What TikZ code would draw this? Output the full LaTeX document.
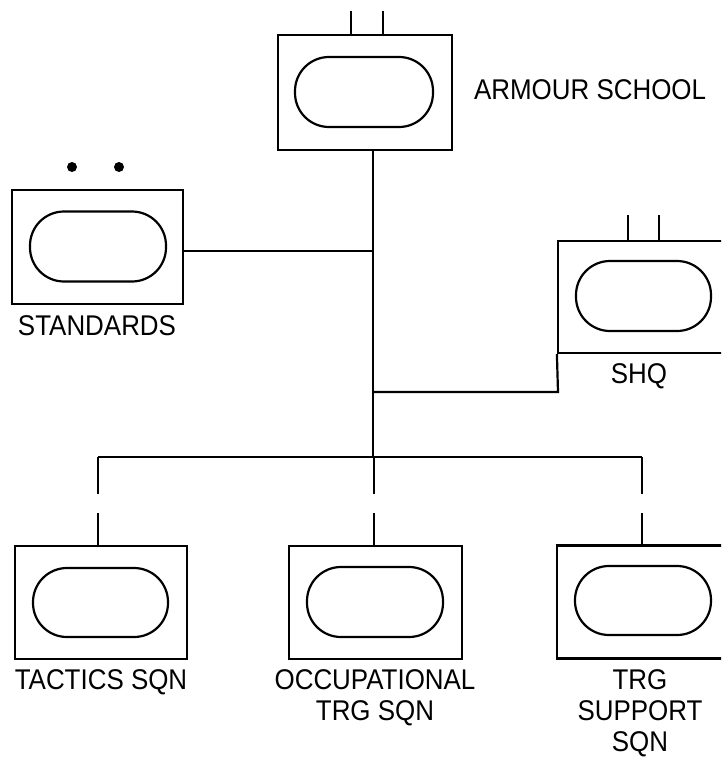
\documentclass[tikz,border=0pt]{standalone}
\usepackage{fontspec}
\setmainfont{Liberation Sans}[FakeStretch=0.91]
\begin{document}
\begin{tikzpicture}[x=1pt,y=-1pt,line width=2.2pt,
  unitbox/.style={draw,rectangle,inner sep=0pt},
  oval/.style={draw,rectangle,rounded corners=34pt,minimum width=136pt,minimum height=70pt,inner sep=0pt},
  lbl/.style={inner sep=0pt,align=center,font=\fontsize{28.5}{31}\selectfont}]
\useasboundingbox (0,0) rectangle (721,757);
\fill[white] (0,0) rectangle (721,757);
\clip (0,0) rectangle (721,757);
% boxes
\node[unitbox,minimum width=174pt,minimum height=115pt] (top) at (365,92.5) {};
\node[oval,minimum width=138pt] (topov) at (364,92) {};
\node[unitbox,minimum width=171pt,minimum height=114pt] (std) at (97.5,247) {};
\node[oval] (stdov) at (98,246.5) {};
\node[unitbox,minimum width=182pt,minimum height=112pt] (shq) at (649,297) {};
\node[oval,minimum width=135pt] (shqov) at (643.5,296) {};
\node[unitbox,minimum width=172pt,minimum height=113pt] (tac) at (101,602.5) {};
\node[oval,minimum width=135pt,minimum height=69pt] (tacov) at (100.5,602.5) {};
\node[unitbox,minimum width=173pt,minimum height=113pt] (occ) at (375.5,602.5) {};
\node[oval] (occov) at (375,602) {};
\node[unitbox,minimum width=183pt,minimum height=113pt] (sup) at (648.5,602) {};
\node[oval,minimum height=69pt] (supov) at (643,600.5) {};
% labels
\node[lbl,anchor=west] (lschool) at (473,90) {ARMOUR SCHOOL};
\node[lbl,anchor=north] (lstd) at (97,314) {STANDARDS};
\node[lbl,anchor=north] (lshq) at (639,362) {SHQ};
\node[lbl,anchor=north] (ltac) at (101,668) {TACTICS SQN};
\node[lbl,anchor=north] (locc) at (375,668) {OCCUPATIONAL\\TRG SQN};
\node[lbl,anchor=north] (lsup) at (640,668) {TRG\\SUPPORT\\SQN};
% coordinates
\coordinate (trunkTop) at (373,150);
\coordinate (jstd) at (373,251);
\coordinate (jshq) at (373,392);
\coordinate (jbot) at (373,457);
\coordinate (hL) at (98,457);
\coordinate (hR) at (642,457);
\coordinate (shqcorner) at (558,392);
% trunk and branches
\draw (trunkTop) -- (jbot);
\draw (jstd) -- (jstd -| std.east);
\draw (jshq) -- (shqcorner) -- (shq.south west);
\draw (hL) -- (hR);
% dropped connectors with gaps
\foreach \n/\x in {tac/98,occ/374,sup/642}{
  \draw (\x,457) -- (\x,494);
  \draw (\x,513) -- (\x,546);
}
% ticks and dots
\draw (351,11) -- (351,35) (383,11) -- (383,35);
\draw (628,215) -- (628,241) (659,215) -- (659,241);
\fill (72,167) circle (5pt) (119,167) circle (5pt);
\end{tikzpicture}
\end{document}
